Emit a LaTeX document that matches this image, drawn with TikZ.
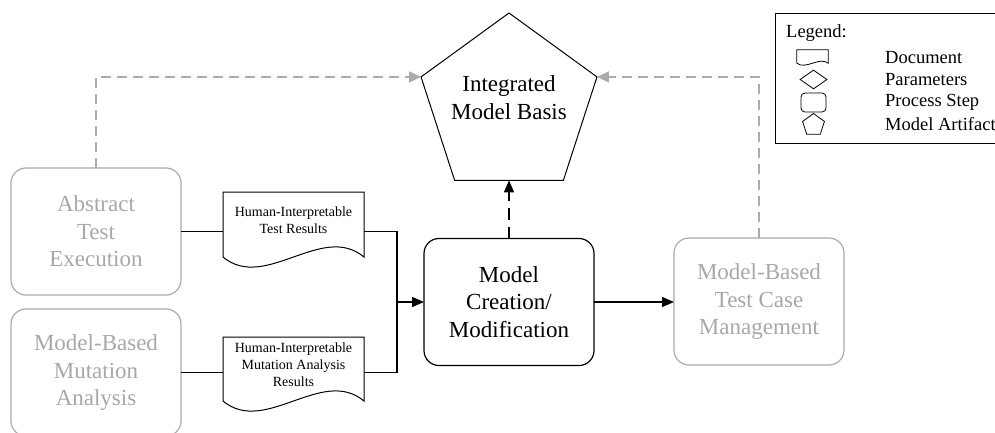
\documentclass[tikz,border=0pt]{standalone}
\usepackage{fontspec}
\setmainfont{Liberation Serif}
\usetikzlibrary{shapes.geometric,arrows.meta,calc}

\definecolor{fadedtext}{HTML}{A8A8A8}
\definecolor{fadedline}{HTML}{ABABAB}

\newcommand\bigtxt{\fontsize{23}{27.5}\selectfont}
\newcommand\doctxt{\fontsize{14}{17}\selectfont}
\newcommand\legtxt{\fontsize{18.5}{22}\selectfont}

% wavy-bottom document outline around a named node: #2 name, #3 control dx, #4 wave dy
\newcommand\docoutline[4][]{%
  \draw[#1] (#2.north west) -- (#2.north east) -- (#2.south east)
    .. controls ([shift={(-#3,#4)}]#2.south east) and ([shift={(#3,-#4)}]#2.south west)
    .. (#2.south west) -- cycle;}

\begin{document}
\begin{tikzpicture}[x=1pt,y=-1pt,
  proc/.style={rectangle, rounded corners=15pt, draw, line width=1.2pt,
    minimum width=170pt, minimum height=127pt, inner sep=0pt, outer sep=0pt,
    align=center, font=\bigtxt},
  faded/.style={draw=fadedline, text=fadedtext},
  docbox/.style={rectangle, minimum width=141pt, inner sep=0pt, outer sep=0pt},
  doclabel/.style={align=center, font=\doctxt, inner sep=0pt},
  artifact/.style={regular polygon, regular polygon sides=5, draw, line width=1pt,
    inner sep=0pt, outer sep=0pt},
  conn/.style={line width=1.3pt},
  tip/.style={-{Triangle[length=12pt,width=10pt]}},
  gdash/.style={draw=fadedline, line width=1.3pt, dash pattern=on 10pt off 6pt,
    -{Triangle[length=12pt,width=11pt]}},
  bdash/.style={line width=1.3pt, dash pattern=on 12pt off 7pt,
    -{Triangle[length=12pt,width=10pt]}},
  legitem/.style={anchor=west, font=\legtxt, inner sep=0pt}
]
\useasboundingbox (0,0) rectangle (995,432);

% process steps
\node[proc, faded] (ate) at (96,231.5) {Abstract\\Test\\Execution};
\node[proc, faded] (mbma) at (96,372.5) {Model-Based\\Mutation\\Analysis};
\node[proc] (mcm) at (509,302) {Model\\Creation/\\Modification};
\node[proc, faded] (mbtcm) at (759,301.5) {Model-Based\\Test Case\\Management};

% model artifact
\node[artifact, minimum size=185pt] (imb) at (509,105.5) {};
\node[align=center, font=\bigtxt, inner sep=0pt] (imbtext) at (509,97.5) {Integrated\\Model Basis};

% documents
\node[docbox, minimum height=65pt] (d1) at (293.5,224.5) {};
\docoutline[line width=1pt]{d1}{42pt}{35pt}
\node[doclabel] (d1text) at (293.5,220.5) {Human-Interpretable\\Test Results};

\node[docbox, minimum height=64pt] (d2) at (293.5,369) {};
\docoutline[line width=1pt]{d2}{42pt}{35pt}
\node[doclabel] (d2text) at (293.5,365) {Human-Interpretable\\Mutation Analysis\\Results};

% junction in front of the modelling step
\coordinate (jn) at (397,302);

% connectors
\draw[conn] (ate.east) -- (ate.east -| d1.west);
\draw[conn] (ate.east -| d1.east) -- (ate.east -| jn) -- (jn);
\draw[conn] (mbma.east) -- (mbma.east -| d2.west);
\draw[conn] (mbma.east -| d2.east) -- (mbma.east -| jn) -- (jn);
\draw[conn, tip] (jn) -- (mcm.west);
\draw[conn, tip] (mcm.east) -- (mcm.east -| mbtcm.west);
\draw[bdash] (mcm.north) -- (mcm.north |- imb.south);
\draw[gdash] (ate.north) -- (ate.north |- imb.corner 2) -- (imb.corner 2);
\draw[gdash] (mbtcm.north) -- (mbtcm.north |- imb.corner 5) -- (imb.corner 5);

% legend frame, running off the right edge
\node[rectangle, anchor=north west, minimum width=235pt, minimum height=130pt,
  inner sep=0pt] (legend) at (775,13) {};
\draw[line width=1pt] (legend.north east) -- (legend.north west)
  -- (legend.south west) -- (legend.south east);
\node[legitem] (legtitle) at (786,33) {Legend:};

\node[rectangle, minimum width=31pt, minimum height=13pt, inner sep=0pt] (lgdoc) at (812.5,56.5) {};
\docoutline[line width=0.8pt]{lgdoc}{9pt}{7pt}
\node[diamond, draw, line width=0.8pt, minimum width=27pt, minimum height=19pt,
  inner sep=0pt] (lgpar) at (813.5,79.5) {};
\node[rectangle, rounded corners=4pt, draw, line width=0.8pt, minimum width=25pt,
  minimum height=19pt, inner sep=0pt] (lgproc) at (813.5,102.5) {};
\node[artifact, line width=0.8pt, minimum size=23pt] (lgart) at (813.5,125) {};

\node[legitem] (l1) at (885,58) {Document};
\node[legitem] (l2) at (885,79.5) {Parameters};
\node[legitem] (l3) at (885,102) {Process Step};
\node[legitem] (l4) at (885,124) {Model Artifact};
\end{tikzpicture}
\end{document}
